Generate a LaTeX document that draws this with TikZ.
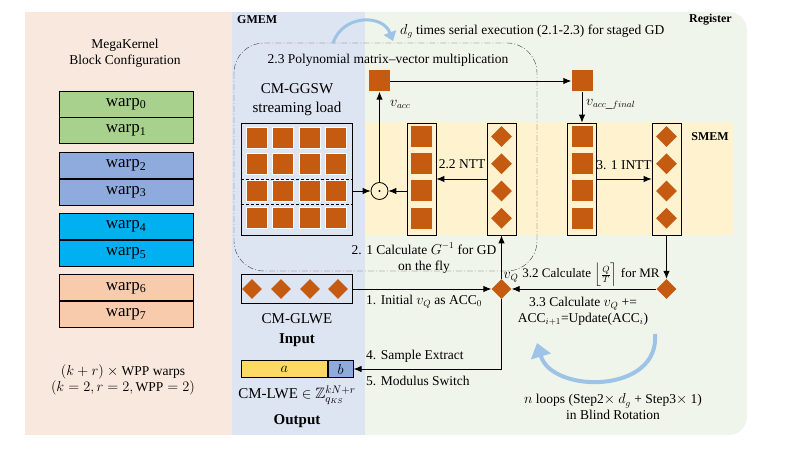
\documentclass[tikz,border=0pt]{standalone}
\usepackage{fontspec}
\usepackage{amssymb}
\setmainfont{Liberation Serif}
\usetikzlibrary{arrows.meta,shapes.geometric,positioning}

\definecolor{rust}{HTML}{C55A11}
\definecolor{panelpink}{HTML}{F9E8DE}
\definecolor{panelblue}{HTML}{DEE5F2}
\definecolor{panelgreen}{HTML}{F0F5EB}
\definecolor{smemyellow}{HTML}{FEF2CF}
\definecolor{warpgreen}{HTML}{A9D18E}
\definecolor{warpblue}{HTML}{8FAADC}
\definecolor{warpcyan}{HTML}{00B0F0}
\definecolor{warppeach}{HTML}{F8CBAD}
\definecolor{ayellow}{HTML}{FFD966}
\definecolor{loopblue}{HTML}{9DC3E6}

\tikzset{
  sq/.style={fill=rust, minimum size=21pt, inner sep=0pt},
  gsq/.style={sq, draw=white, line width=1pt},
  dia/.style={diamond, fill=rust, minimum width=21pt, minimum height=21pt, inner sep=0pt},
  col/.style={draw, line width=0.8pt, minimum width=29pt, minimum height=112pt, inner sep=0pt},
  warpbox/.style={draw, line width=0.8pt, minimum width=134pt, minimum height=26pt, font=\fontsize{17}{19}\selectfont},
  lbl/.style={font=\fontsize{13.5}{16}\selectfont, inner sep=1pt},
  biglbl/.style={font=\fontsize{15}{19}\selectfont, align=center, inner sep=1pt},
  memlbl/.style={font=\fontsize{12}{14}\selectfont\bfseries, inner sep=1pt},
  flow/.style={-{Latex[length=8pt,width=6.5pt]}, line width=0.9pt},
  looparrow/.style={loopblue, line width=3pt, -{Triangle[length=9pt,width=13pt]}},
}

\begin{document}
\begin{tikzpicture}[x=1pt, y=-1pt]
    \useasboundingbox (0,0) rectangle (809,449);

    % --- 1. Memory panels ---
    \fill[panelpink] (25,12) rectangle (232,435);
    \fill[panelgreen, rounded corners=18pt] (330,12) rectangle (747,435);
    \fill[panelblue] (232,12) rectangle (365,435);
    \fill[smemyellow] (365,122) rectangle (733,235);
    \node[memlbl, anchor=west] (gmem) at (236,20) {GMEM};
    \node[memlbl, anchor=east] (reg) at (733,20) {Register};
    \node[memlbl] (smem) at (710,137) {SMEM};

    % --- 2. Block configuration (warps) ---
    \node[lbl, align=center] (cfg) at (125,53) {MegaKernel\\Block Configuration};
    \foreach \p/\c in {0/warpgreen, 1/warpblue, 2/warpcyan, 3/warppeach} {
        \pgfmathtruncatemacro\wa{2*\p}
        \pgfmathtruncatemacro\wb{2*\p+1}
        \node[warpbox, fill=\c] (warp\wa) at (126,{104+61.3*\p}) {warp\textsubscript{\wa}};
        \node[warpbox, fill=\c, below=0pt of warp\wa] (warp\wb) {warp\textsubscript{\wb}};
    }
    \node[lbl, align=center] (wppnote) at (123,380) {$(k+r)\ \times$ WPP warps\\$(k=2, r=2, \mathrm{WPP}=2)$};

    % --- 3. Polynomial matrix-vector multiplication region ---
    \draw[black!75, dash pattern=on 6pt off 2pt on 1pt off 2pt, rounded corners=30pt] (234,43) rectangle (537,271);
    \node[lbl] (pmvm) at (388,60) {2.3 Polynomial matrix--vector multiplication};
    \draw[looparrow] (333,43) .. controls (343,14) and (383,14) .. (393,41);
    \node[lbl, anchor=west] (dgtimes) at (399,31) {$d_g$ times serial execution (2.1-2.3) for staged GD};

    % GGSW streaming load
    \node[biglbl] (ggswlbl) at (297,100) {CM-GGSW\\streaming load};
    \node[draw, line width=0.8pt, minimum width=111pt, minimum height=112pt] (ggsw) at (296.5,179) {};
    \foreach \r/\yy in {0/138, 1/164.5, 2/191.5, 3/218}
        \foreach \c/\xx in {0/257, 1/283, 2/310, 3/336}
            \node[gsq] (g\r\c) at (\xx,\yy) {};
    \draw[densely dashed] (ggsw.west |- 0,179.5) -- (ggsw.east |- 0,179.5);
    \draw[densely dashed] (ggsw.west |- 0,204.5) -- (ggsw.east |- 0,204.5);

    % pointwise product
    \node[circle, draw, line width=0.8pt, minimum size=17pt, inner sep=0pt] (odot) at (379.5,191) {};
    \fill (odot) circle (1.1pt);

    % --- 4. NTT / INTT columns ---
    \node[col] (nttout) at (421.5,179) {};
    \node[col] (nttin) at (501.5,179) {};
    \node[col] (inttin) at (582,179) {};
    \node[col] (inttout) at (666.5,179) {};
    \foreach \k/\yy in {0/136.5, 1/163.8, 2/191, 3/218.3} {
        \node[sq] (na\k) at (421.5,\yy) {};
        \node[dia] (nb\k) at (501.5,\yy) {};
        \node[sq] (ia\k) at (582,\yy) {};
        \node[dia] (ib\k) at (666.5,\yy) {};
    }
    \node[sq] (vacc) at (379.5,81) {};
    \node[sq] (vaccf) at (582,81) {};

    % --- 5. Accumulator and ciphertexts ---
    \node[dia, minimum width=20pt, minimum height=20pt] (vq) at (501.5,289) {};
    \node[dia, minimum width=20pt, minimum height=20pt] (mr) at (666.5,289) {};

    \node[draw, line width=0.8pt, minimum width=111pt, minimum height=29pt] (glwe) at (296.5,289) {};
    \foreach \k/\xx in {0/252, 1/281, 2/310, 3/338}
        \node[dia, minimum width=20pt, minimum height=20pt] (gd\k) at (\xx,289) {};
    \node[biglbl] (glwelbl) at (297,319) {CM-GLWE};
    \node[biglbl, font=\fontsize{15}{19}\selectfont\bfseries] (inlbl) at (297,340) {Input};

    \node[draw, line width=0.8pt, fill=ayellow, minimum width=86pt, minimum height=17.5pt, inner sep=0pt, anchor=west, font=\fontsize{14}{16}\selectfont] (lwea) at (241,369) {$a$};
    \node[draw, line width=0.8pt, fill=warpblue, minimum width=25pt, minimum height=17.5pt, inner sep=0pt, right=0pt of lwea, font=\fontsize{14}{16}\selectfont] (lweb) {$b$};
    \node[biglbl, inner sep=0pt] (lwelbl) at (297,395) {CM-LWE $\in\mathbb{Z}^{kN+r}_{q_{KS}}$};
    \node[biglbl, font=\fontsize{15}{19}\selectfont\bfseries, inner sep=0pt] (outlbl) at (297,421) {Output};

    % --- 6. Data flow ---
    \draw[flow] (ggsw.east |- odot) -- (odot.west);
    \draw[flow] (nttout.west |- odot) -- (odot.east);
    \draw[flow] (odot) -- (vacc);
    \draw[flow] (vacc) -- (vaccf);
    \draw[flow] (vaccf) -- (inttin);
    \draw[flow] (nttin) -- (nttout);
    \draw[flow] (inttin) -- (inttout);
    \draw[flow] (inttout) -- (mr);
    \draw[flow] (mr) -- (vq);
    \draw[flow] (glwe) -- (vq);
    \draw[flow] (vq) -- (nttin);
    \draw[flow] (vq.south) |- (lweb.east);

    \node[lbl, anchor=west] (vacclbl) at (389,104) {$v_{acc}$};
    \node[lbl, anchor=west] (vaccflbl) at (585,104) {$v_{acc\_final}$};
    \node[lbl] (nttlbl) at (462,164) {2.2 NTT};
    \node[lbl] (inttlbl) at (624,165) {3. 1 INTT};
    \node[lbl, align=center] (ginvlbl) at (424,258) {2. 1 Calculate $G^{-1}$ for GD\\on the fly};
    \node[lbl] (vqlbl) at (511,277) {$v_Q$};
    \node[lbl, font=\fontsize{13}{15}\selectfont] (mrlbl) at (591,275) {3.2 Calculate $\left\lfloor\frac{Q}{T}\right\rceil$ for MR};
    \node[lbl, align=center] (updlbl) at (583,311) {3.3 Calculate $v_Q$ +=\\ACC$_{i+1}$=Update(ACC$_i$)};
    \node[lbl, anchor=west] (initlbl) at (365,302) {1. Initial $v_Q$ as ACC$_0$};
    \node[lbl, anchor=west] (selbl) at (365,356) {4. Sample Extract};
    \node[lbl, anchor=west] (mslbl) at (365,381) {5. Modulus Switch};

    % --- 7. Blind rotation loop ---
    \draw[looparrow, line width=4pt, -{Triangle[length=14pt,width=20pt]}] (655,334) .. controls (660,394) and (552,394) .. (537,343);
    \node[lbl, align=center] (looplbl) at (613,407) {$n$ loops (Step2$\times$ $d_g$ + Step3$\times$ 1)\\in Blind Rotation};

\end{tikzpicture}
\end{document}
